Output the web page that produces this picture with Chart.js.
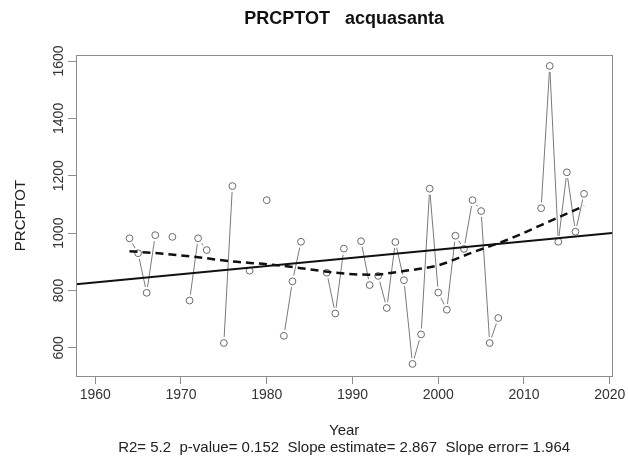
<!DOCTYPE html>
<html>
<head>
<meta charset="utf-8">
<script src="https://cdn.jsdelivr.net/npm/chart.js@4/dist/chart.umd.min.js"></script>
<style>
html,body{margin:0;padding:0;background:#fff;}
#wrap{width:628px;height:459px;}
</style>
</head>
<body>
<div id="wrap"><canvas id="c" width="628" height="459"></canvas></div>
<script>
// ---- data ----
const years = [1964,1965,1966,1967,1968,1969,1970,1971,1972,1973,1974,1975,1976,1977,1978,1979,1980,1981,1982,1983,1984,1985,1986,1987,1988,1989,1990,1991,1992,1993,1994,1995,1996,1997,1998,1999,2000,2001,2002,2003,2004,2005,2006,2007,2008,2009,2010,2011,2012,2013,2014,2015,2016,2017];
const prcptot = [982,930,792,993,null,987,null,765,982,941,null,617,1164,null,869,null,1115,null,642,832,970,null,null,862,720,946,null,972,819,851,739,969,836,544,647,1155,793,733,991,945,1115,1077,617,704,null,null,null,null,1087,1583,970,1212,1005,1137];
const loessYears = [1964,1968,1972,1976,1980,1984,1988,1992,1996,2000,2004,2008,2012,2017];
const loessValues = [937,928,916,901,892,878,862,855,868,888,933,976,1028,1095];
const trendSlope = 2.867;
const trendAt1990 = 914;
const xTicks = [1960,1970,1980,1990,2000,2010,2020];
const yTicks = [600,800,1000,1200,1400,1600];
const xMin = 1957.76, xMax = 2020.3, yMin = 502, yMax = 1621;

const pts = years.map((y,i)=>({x:y, y:prcptot[i]}));
const validPts = pts.filter(p=>p.y!==null);
const trendPts = [xMin,xMax].map(x=>({x:x, y:trendAt1990 + trendSlope*(x-1990)}));
const loessPts = loessYears.map((y,i)=>({x:y, y:loessValues[i]}));

const FONT = "'Liberation Sans', Arial, sans-serif";
const boxPlugin = {
  id:'box',
  afterDatasetsDraw(chart){
    const {ctx, chartArea:a} = chart;
    ctx.save();
    ctx.strokeStyle = '#8c8c8c';
    ctx.lineWidth = 1;
    ctx.strokeRect(Math.round(a.left)+0.5, Math.round(a.top)+0.5, Math.round(a.right-a.left), Math.round(a.bottom-a.top));
    ctx.restore();
  }
};

new Chart(document.getElementById('c'), {
  type:'line',
  data:{
    datasets:[
      {label:'trend', data:trendPts, borderColor:'#111', borderWidth:2, pointRadius:0, order:1, tension:0},
      {label:'loess', data:loessPts, borderColor:'#111', borderWidth:2.5, borderDash:[8,5], pointRadius:0, order:1, cubicInterpolationMode:'monotone'},
      {label:'points', data:validPts, showLine:false, pointRadius:3.4, pointBorderWidth:1, pointBorderColor:'#6a6a6a', pointBackgroundColor:'rgba(255,255,255,0)', order:2},
      {label:'halo', data:validPts, showLine:false, pointRadius:6, pointBorderWidth:0, pointBorderColor:'#fff', pointBackgroundColor:'#fff', order:3},
      {label:'series', data:pts, borderColor:'#7a7a7a', borderWidth:1, pointRadius:0, spanGaps:false, tension:0, order:4}
    ]
  },
  options:{
    responsive:false,
    devicePixelRatio:1,
    animation:false,
    events:[],
    layout:{padding:{left:0,right:14,top:0,bottom:0}},
    plugins:{
      legend:{display:false},
      tooltip:{enabled:false},
      title:{display:true, text:'PRCPTOT   acquasanta', fullSize:false, color:'#111', font:{family:FONT, size:18, weight:'bold', lineHeight:1.2}, padding:{top:8,bottom:25.4}},
      subtitle:{display:true, position:'bottom', text:'R2= 5.2  p-value= 0.152  Slope estimate= 2.867  Slope error= 1.964', fullSize:false, color:'#222', font:{family:FONT, size:15, lineHeight:1}, padding:{top:0,bottom:3.5}}
    },
    scales:{
      x:{
        type:'linear', min:xMin, max:xMax,
        afterBuildTicks(s){ s.ticks = xTicks.map(v=>({value:v})); },
        afterFit(s){ s.height = 64.5; },
        ticks:{includeBounds:false, stepSize:10, color:'#333', font:{family:FONT, size:14}, padding:2.6, maxRotation:0, autoSkip:false, callback:v=>String(v)},
        grid:{display:true, drawOnChartArea:false, drawTicks:true, tickLength:8, color:'#8c8c8c'},
        border:{display:true, color:'#8c8c8c'},
        title:{display:true, text:'Year', color:'#222', font:{family:FONT, size:15, lineHeight:1}, padding:{top:0,bottom:2}}
      },
      y:{
        type:'linear', min:yMin, max:yMax,
        afterBuildTicks(s){ s.ticks = yTicks.map(v=>({value:v})); },
        afterFit(s){ s.width = 76; },
        ticks:{includeBounds:false, stepSize:200, color:'#333', font:{family:FONT, size:14}, padding:-6.6, minRotation:90, maxRotation:90, crossAlign:'center', autoSkip:false, callback:v=>String(v)},
        grid:{display:true, drawOnChartArea:false, drawTicks:true, tickLength:8, color:'#8c8c8c'},
        border:{display:true, color:'#8c8c8c'},
        title:{display:true, text:'PRCPTOT', color:'#222', font:{family:FONT, size:15, lineHeight:1.2}, padding:{top:11.5,bottom:0}}
      }
    }
  },
  plugins:[boxPlugin]
});
</script>
</body>
</html>
